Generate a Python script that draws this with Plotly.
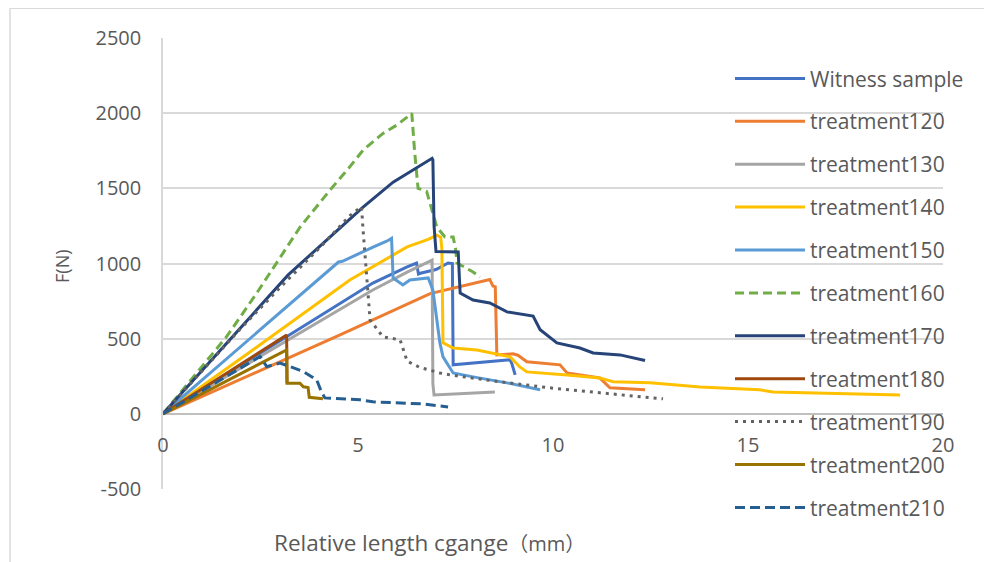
import plotly.graph_objects as go

names = ["Witness sample", "treatment120", "treatment130", "treatment140", "treatment150",
         "treatment160", "treatment170", "treatment180", "treatment190", "treatment200", "treatment210"]

x_w = [0, 2.23, 4.54, 5.38, 6.26, 6.5, 6.55, 6.6, 7.0, 7.31, 7.42, 7.44, 8.9, 8.95, 9.03]
y_w = [0, 360, 737, 870, 977, 1003, 930, 935, 960, 1003, 1000, 326, 359, 330, 259]

x_120 = [0, 4.54, 6.85, 8.0, 8.38, 8.46, 8.52, 8.56, 8.97, 9.1, 9.33, 10.18, 10.36, 11.2, 11.46, 12.36]
y_120 = [0, 525, 800, 870, 893, 850, 845, 392, 399, 390, 346, 326, 272, 239, 173, 160]

x_130 = [0, 4.54, 5.38, 6.26, 6.9, 6.92, 6.95, 8.51]
y_130 = [0, 691, 824, 943, 1023, 200, 126, 145]

x_140 = [0, 2.23, 4.79, 5.38, 6.26, 6.8, 7.02, 7.12, 7.15, 7.18, 7.44, 8.05, 8.46, 8.9, 9.15,
         9.33, 10.36, 11.2, 11.54, 12.49, 13.77, 15.3, 15.64, 18.9]
y_140 = [0, 411, 890, 977, 1110, 1160, 1189, 1175, 1100, 472, 438, 425, 405, 379, 312,
         279, 259, 239, 213, 206, 179, 160, 146, 126]

x_150 = [0, 2.23, 4.3, 4.5, 4.6, 5.0, 5.4, 5.75, 5.86, 5.9, 6.15, 6.33, 6.8, 6.92, 7.1, 7.18,
         7.44, 7.95, 8.38, 8.82, 9.67]
y_150 = [0, 500, 960, 1010, 1015, 1065, 1110, 1150, 1167, 904, 857, 890, 904, 824, 472, 379,
         272, 246, 226, 206, 160]

x_160 = [0, 0.86, 1.63, 2.4, 3.08, 3.51, 4.28, 4.79, 5.13, 5.64, 5.99, 6.38, 6.45, 6.54, 6.76,
         7.02, 7.23, 7.44, 7.5, 7.54, 7.95, 8.13]
y_160 = [0, 272, 513, 802, 1067, 1240, 1488, 1643, 1754, 1865, 1920, 1998, 1750, 1500, 1480,
         1243, 1176, 1176, 1100, 1003, 944, 910]

x_170 = [0, 3.21, 4.28, 5.13, 5.9, 6.9, 6.92, 6.95, 7.0, 7.57, 7.6, 7.62, 7.95, 8.38, 8.82,
         9.49, 9.67, 10.1, 10.69, 11.03, 11.72, 12.36]
y_170 = [0, 924, 1176, 1375, 1541, 1700, 1690, 1250, 1080, 1076, 900, 804, 757, 737, 678,
         650, 560, 472, 438, 405, 392, 355]

x_180 = [0, 3.17, 3.18]
y_180 = [0, 525, 205]

x_190 = [0, 1, 2, 3, 4, 4.8, 5.09, 5.13, 5.18, 5.31, 5.64, 6.08, 6.26, 6.59, 7.1, 7.36, 8.64,
         9.92, 11.2, 12.82]
y_190 = [0, 285, 570, 840, 1100, 1320, 1378, 1223, 1043, 625, 512, 492, 350, 308, 272, 259, 213,
         173, 140, 100]

x_200 = [0, 3.17, 3.18, 3.51, 3.6, 3.72, 3.75, 4.1]
y_200 = [0, 425, 204, 204, 180, 175, 110, 100]

x_210 = [0, 1, 2, 2.49, 2.66, 3.0, 3.26, 3.6, 3.94, 4.06, 4.15, 5.05, 5.38, 6.26, 6.68, 7.31]
y_210 = [0, 153, 306, 381, 314, 337, 314, 281, 226, 148, 106, 93, 80, 73, 66, 46]

xs = [x_w, x_120, x_130, x_140, x_150, x_160, x_170, x_180, x_190, x_200, x_210]
ys = [y_w, y_120, y_130, y_140, y_150, y_160, y_170, y_180, y_190, y_200, y_210]
colors = ["#4472C4", "#ED7D31", "#A5A5A5", "#FFC000", "#5B9BD5", "#70AD47",
          "#264478", "#9E480E", "#636363", "#997300", "#255E91"]
dashes = ["solid", "solid", "solid", "solid", "solid", "9px,5px",
          "solid", "solid", "3px,5px", "solid", "10px,5px"]

xticks = [0, 5, 10, 15, 20]
yticks = [-500, 0, 500, 1000, 1500, 2000, 2500]

FONT = "Open Sans, Noto Sans CJK SC"
TXT = "#595959"

# the page body adds an 8px offset; plot area target (screen px): 163..943 x 37.75..489.3
OFF = 8
L, R, T, B = 163, 943, 37.75, 489.3


def px(sx):
    return (sx - L) / (R - L)


def py(sy):
    return (B - sy) / (B - T)


fig = go.Figure()
for i in range(len(names)):
    fig.add_trace(go.Scatter(
        x=xs[i], y=ys[i], mode="lines", name=names[i], legendgroup=names[i],
        line=dict(color=colors[i], width=3, dash=dashes[i]),
    ))

fig.update_layout(
    width=992, height=562,
    margin=dict(l=L - OFF, r=992 - (R - OFF), t=T - OFF, b=562 - (B - OFF), autoexpand=False),
    paper_bgcolor="white", plot_bgcolor="white",
    font=dict(family=FONT, color=TXT, size=20),
    showlegend=True,
    legend=dict(x=px(730), y=py(58), xanchor="left", yanchor="top",
                bgcolor="rgba(0,0,0,0)", font=dict(size=21, color=TXT),
                tracegroupgap=12.6, itemwidth=70, maxheight=560),
    xaxis=dict(range=[0, 20], tickvals=xticks, ticktext=[str(v) for v in xticks],
               showgrid=False, zeroline=False, showline=False, ticks="",
               anchor="free", position=500 / 3000, ticklabelstandoff=17,
               tickfont=dict(size=20, color=TXT)),
    yaxis=dict(range=[-500, 2500], tickvals=yticks, ticktext=[str(v) for v in yticks],
               showgrid=True, gridcolor="#D9D9D9", gridwidth=1.5,
               zeroline=True, zerolinecolor="#BFBFBF", zerolinewidth=1.5,
               showline=True, linecolor="#D9D9D9", linewidth=1.5, ticks="",
               ticklabelstandoff=16, tickfont=dict(size=20, color=TXT)),
    annotations=[
        dict(text="Relative length cgange<span style='font-size:20px'>（mm）</span>",
             x=px(429), y=py(543), xanchor="center", yanchor="middle",
             xref="paper", yref="paper", showarrow=False, font=dict(size=22.5, color=TXT)),
        dict(text="F(N)", x=px(62), y=py(266), textangle=-90, xanchor="center", yanchor="middle",
             xref="paper", yref="paper", showarrow=False, font=dict(size=18, color=TXT)),
    ],
    shapes=[
        dict(type="line", xref="paper", yref="paper", x0=px(10), x1=px(10),
             y0=py(600), y1=py(8), line=dict(color="#D9D9D9", width=1.5)),
        dict(type="line", xref="paper", yref="paper", x0=px(10), x1=px(1100),
             y0=py(8), y1=py(8), line=dict(color="#D9D9D9", width=1.5)),
    ],
)

fig.write_html("out.html")
